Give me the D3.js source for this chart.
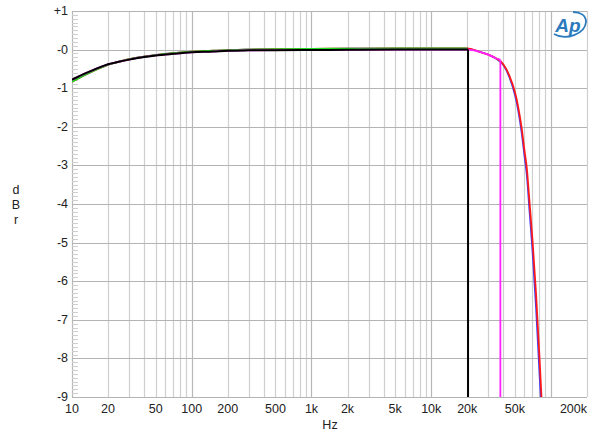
<!DOCTYPE html>
<html>
<head>
<meta charset="utf-8">
<script src="https://cdn.jsdelivr.net/npm/d3@7"></script>
<style>
  body { margin: 0; background: #fff; }
  text { font-family: Arial, "Liberation Sans", sans-serif; }
</style>
</head>
<body>
<div id="root"></div>
<script>
// passband, shared by all traces (Hz, dBr)
var lowFreq = [10, 12, 14, 17, 20, 25, 30, 40, 50, 60, 70, 100, 150, 200, 300, 500, 1000, 2000, 5000, 10000, 15000, 20000];
var lowBlack = [-0.78, -0.66, -0.57, -0.46, -0.38, -0.31, -0.26, -0.19, -0.15, -0.13, -0.11, -0.07, -0.05, -0.03, -0.02, -0.015, -0.01, -0.005, 0, 0, 0, 0];
var lowGreen = [-0.83, -0.70, -0.60, -0.48, -0.39, -0.31, -0.25, -0.18, -0.14, -0.11, -0.09, -0.055, -0.03, -0.015, 0, 0.01, 0.02, 0.025, 0.03, 0.03, 0.03, 0.03];
// roll-off above 20k
var hiFreq = [25000, 30000, 35000, 40000, 45000, 50000, 53000, 57000, 60000, 63000, 66000, 70000, 75000, 80000, 84000];
var hiRed = [-0.05, -0.13, -0.23, -0.38, -0.68, -1.1, -1.45, -2.05, -2.6, -3.1, -3.9, -4.9, -6.3, -7.9, -9.2];
var hiBlue = [-0.05, -0.13, -0.24, -0.40, -0.72, -1.18, -1.55, -2.18, -2.75, -3.3, -4.15, -5.2, -6.7, -8.35, -9.6];
var blackCut = 20300;
var magentaCut = 37800;

var xTicks = [10, 20, 50, 100, 200, 500, 1000, 2000, 5000, 10000, 20000, 50000, 200000];
var xTickLabels = ["10", "20", "50", "100", "200", "500", "1k", "2k", "5k", "10k", "20k", "50k", "200k"];
var yTicks = [1, 0, -1, -2, -3, -4, -5, -6, -7, -8, -9];
var yTickLabels = ["+1", "-0", "-1", "-2", "-3", "-4", "-5", "-6", "-7", "-8", "-9"];

var w = 600, h = 441;
var margin = {top: 11, right: 13, bottom: 44, left: 72};

var x = d3.scaleLog().domain([10, 200000]).range([margin.left, w - margin.right]);
var y = d3.scaleLinear().domain([-9, 1]).range([h - margin.bottom, margin.top]);

var svg = d3.select("#root").append("svg").attr("width", w).attr("height", h);

// clip
svg.append("clipPath").attr("id", "plot").append("rect")
  .attr("x", margin.left).attr("y", margin.top)
  .attr("width", w - margin.left - margin.right).attr("height", h - margin.top - margin.bottom);

// vertical grid, 1..9 per decade
var vLines = [];
for (var p = 1; p <= 5; p++) {
  for (var m = 1; m <= 9; m++) {
    var f = m * Math.pow(10, p);
    if (f <= 200000) vLines.push(f);
  }
}
svg.append("g").selectAll("line").data(vLines).enter().append("line")
  .attr("x1", function(d) { return Math.round(x(d)) + 0.5; })
  .attr("x2", function(d) { return Math.round(x(d)) + 0.5; })
  .attr("y1", y(1)).attr("y2", y(-9))
  .attr("stroke", function(d) {
    var m = d / Math.pow(10, Math.floor(Math.log10(d) + 1e-9));
    return (Math.abs(m - 1) < 1e-6) ? "#b8b8b8" : "#cfcfcf";
  })
  .attr("stroke-width", 1.2);

// horizontal grid
svg.append("g").selectAll("line").data(yTicks).enter().append("line")
  .attr("x1", x(10)).attr("x2", x(200000))
  .attr("y1", function(d) { return Math.round(y(d)) + 0.5; })
  .attr("y2", function(d) { return Math.round(y(d)) + 0.5; })
  .attr("stroke", "#b4b4b4").attr("stroke-width", 1);

// small 0.1 dB ticks on the left
var minor = d3.range(-90, 10).map(function(v) { return v / 10; }).filter(function(v) { return Math.abs(v - Math.round(v)) > 1e-6; });
svg.append("g").selectAll("line").data(minor).enter().append("line")
  .attr("x1", x(10)).attr("x2", x(10) + 6)
  .attr("y1", function(d) { return Math.round(y(d)) + 0.5; })
  .attr("y2", function(d) { return Math.round(y(d)) + 0.5; })
  .attr("stroke", "#cfcfcf").attr("stroke-width", 1);

// tick labels
svg.append("g").selectAll("text").data(yTicks).enter().append("text")
  .attr("x", margin.left - 4).attr("y", function(d) { return y(d) + 4; })
  .attr("text-anchor", "end").attr("font-size", "12.5px").attr("fill", "#222")
  .text(function(d, i) { return yTickLabels[i]; });

svg.append("g").selectAll("text").data(xTicks).enter().append("text")
  .attr("x", function(d) { return x(d); }).attr("y", h - margin.bottom + 16)
  .attr("text-anchor", function(d, i) { return i === xTicks.length - 1 ? "end" : "middle"; })
  .attr("font-size", "12.5px").attr("fill", "#222")
  .text(function(d, i) { return xTickLabels[i]; });

// axis titles
svg.append("text").attr("x", 330).attr("y", 429).attr("text-anchor", "middle")
  .attr("font-size", "12.5px").attr("fill", "#222").text("Hz");
["d", "B", "r"].forEach(function(c, i) {
  svg.append("text").attr("x", 16).attr("y", 194 + i * 15).attr("text-anchor", "middle")
    .attr("font-size", "12.5px").attr("fill", "#222").text(c);
});

// traces
function build(lowVals, hiVals, cut) {
  var pts = lowFreq.map(function(f, i) { return [f, lowVals[i]]; });
  if (hiVals) {
    hiFreq.forEach(function(f, i) {
      if (!cut || f < cut) pts.push([f, hiVals[i]]);
    });
    if (cut) {
      pts.push([cut, pts[pts.length - 1][1] - 0.03]);
      pts.push([cut, -12]);
    }
  } else if (cut) {
    pts.push([cut, 0]);
    pts.push([cut, -12]);
  }
  return pts;
}

var line = d3.line().x(function(d) { return x(d[0]); }).y(function(d) { return y(d[1]); }).curve(d3.curveMonotoneX);
var lineStraight = d3.line().x(function(d) { return x(d[0]); }).y(function(d) { return y(d[1]); });

var traces = [
  {pts: build(lowGreen, hiBlue, null), color: "#3b3bff", width: 1.6},
  {pts: build(lowGreen, hiRed, null), color: "#ff1a1a", width: 1.8},
  {pts: build(lowGreen, null, null), color: "#22dd22", width: 1.8},
  {pts: build(lowBlack, hiRed, magentaCut), color: "#ff22ff", width: 1.8},
  {pts: build(lowBlack, null, blackCut), color: "#000", width: 2}
];

var g = svg.append("g").attr("clip-path", "url(#plot)");
traces.forEach(function(t) {
  // smooth part, then vertical cut drawn straight
  var n = t.pts.length;
  var hasCut = t.pts[n - 1][1] < -10;
  var smooth = hasCut ? t.pts.slice(0, n - 1) : t.pts;
  g.append("path").attr("d", line(smooth)).attr("fill", "none")
    .attr("stroke", t.color).attr("stroke-width", t.width).attr("stroke-linejoin", "round");
  if (hasCut) {
    g.append("path").attr("d", lineStraight(t.pts.slice(n - 2))).attr("fill", "none")
      .attr("stroke", t.color).attr("stroke-width", t.width);
  }
});

// Ap logo
var logo = svg.append("g").attr("transform", "translate(569,25)");
logo.append("path")
  .attr("d", "M-15,9 C-3,16 16,9 17,-3 C17,-10 11,-13 4,-13")
  .attr("fill", "none").attr("stroke", "#2b7bbd").attr("stroke-width", 1.8);
logo.append("text").attr("x", -1).attr("y", 7).attr("text-anchor", "middle")
  .attr("font-size", "19px").attr("font-style", "italic").attr("font-weight", "bold")
  .attr("fill", "#2b7bbd").text("Ap");
</script>
</body>
</html>
